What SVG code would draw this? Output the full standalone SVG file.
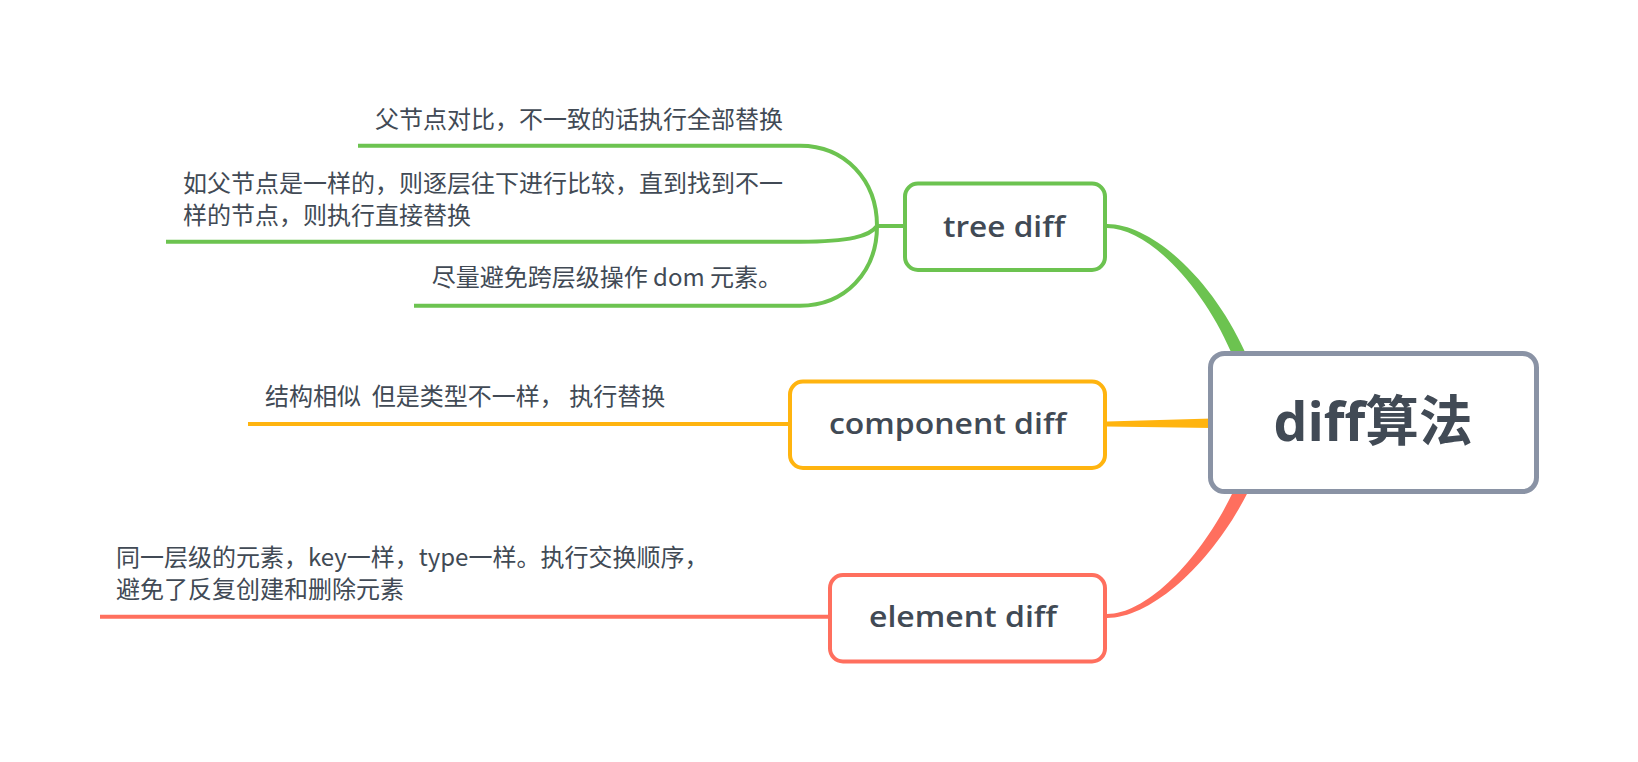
<svg xmlns="http://www.w3.org/2000/svg" width="1638" height="762" viewBox="0 0 1638 762">
<style>
.bg{fill:#ffffff}
.box{fill:#ffffff;stroke-width:4}
.g{stroke:#6cc350}
.o{stroke:#ffb40f}
.r{stroke:#ff6f5e}
.root{fill:#ffffff;stroke:#8a93a5;stroke-width:5}
.lab{font-family:"Open Sans","Noto Sans CJK SC",sans-serif;font-weight:600;font-size:29px;fill:#414a55;text-anchor:middle}
.rootlab{font-family:"Open Sans","Noto Sans CJK SC",sans-serif;font-weight:700;font-size:54px;fill:#414a55;text-anchor:middle}
.leaf{font-family:"Noto Sans CJK SC","Noto Sans",sans-serif;font-size:24px;fill:#414a55}
.ln{fill:none;stroke-width:4;stroke-linecap:butt}
</style>
<rect class="bg" x="0" y="0" width="1638" height="762"/>
<g id="connectors">
  <path d="M1107,224 C1152,224 1212,279 1245,352 L1231,352 C1202,285 1148,228 1107,228 Z" fill="#6cc350"/>
  <path d="M1107,421.5 L1212,418.5 L1212,428 L1107,426.5 Z" fill="#ffb40f"/>
  <path d="M1107,618 C1152,618 1212,563 1248,492 L1233,492 C1202,557 1148,614 1107,614 Z" fill="#ff6f5e"/>
  <path class="ln g" d="M877,226 L905,226"/>
  <path class="ln g" d="M358,145.7 L800,145.7 C845,145.7 877,180 877,226"/>
  <path class="ln g" d="M166,241.7 L800,241.7 C850,241.7 870,236 877,226"/>
  <path class="ln g" d="M414,305.7 L800,305.7 C845,305.7 877,272 877,226"/>
  <path class="ln o" d="M248,424 L790,424"/>
  <path class="ln r" d="M100,616.7 L830,616.7"/>
</g>
<g id="root">
  <rect class="root" x="1210.5" y="353.5" width="326" height="138" rx="14"/>
  <text class="rootlab" x="1373" y="441" textLength="199" lengthAdjust="spacingAndGlyphs">diff算法</text>
</g>
<g id="tree-diff">
  <rect class="box g" x="905" y="183.5" width="200" height="86.5" rx="13"/>
  <text class="lab" x="1004" y="236.7" textLength="122" lengthAdjust="spacingAndGlyphs">tree diff</text>
</g>
<g id="component-diff">
  <rect class="box o" x="790" y="381.5" width="315" height="86.5" rx="13"/>
  <text class="lab" x="947.5" y="434" textLength="237" lengthAdjust="spacingAndGlyphs">component diff</text>
</g>
<g id="element-diff">
  <rect class="box r" x="830" y="575" width="275" height="86.5" rx="13"/>
  <text class="lab" x="963" y="627" textLength="188" lengthAdjust="spacingAndGlyphs">element diff</text>
</g>
<g id="leaf-tree-1">
  <text class="leaf" x="375" y="128">父节点对比，不一致的话执行全部替换</text>
</g>
<g id="leaf-tree-2">
  <text class="leaf" x="183" y="192">如父节点是一样的，则逐层往下进行比较，直到找到不一</text>
  <text class="leaf" x="183" y="224">样的节点，则执行直接替换</text>
</g>
<g id="leaf-tree-3">
  <text class="leaf" x="431.7" y="286">尽量避免跨层级操作 dom 元素。</text>
</g>
<g id="leaf-component">
  <text class="leaf" x="265" y="405" xml:space="preserve">结构相似  但是类型不一样， 执行替换</text>
</g>
<g id="leaf-element">
  <text class="leaf" x="116" y="566">同一层级的元素，key一样，type一样。执行交换顺序，</text>
  <text class="leaf" x="116" y="598">避免了反复创建和删除元素</text>
</g>
</svg>
